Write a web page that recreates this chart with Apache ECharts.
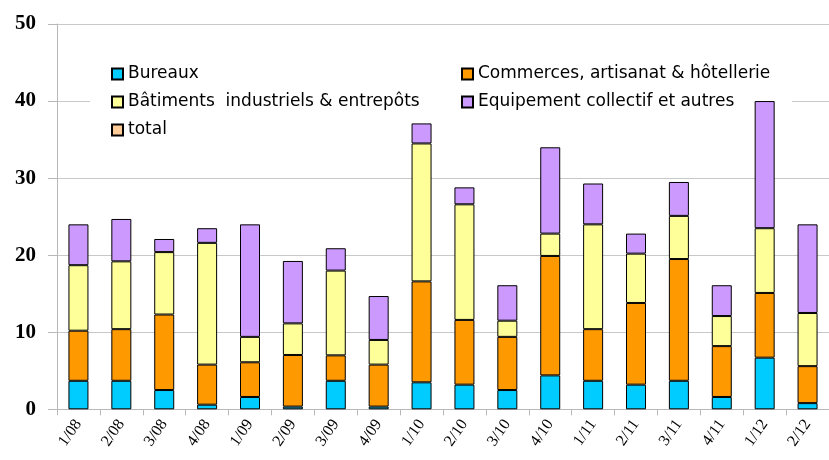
<!DOCTYPE html>
<html><head><meta charset="utf-8">
<script src="https://cdn.jsdelivr.net/npm/echarts@6/dist/echarts.min.js"></script>
<style>html,body{margin:0;padding:0;background:#fff}#c{width:829px;height:460px}</style>
</head><body><div id="c"></div>
<script>
const categories = ["1/08","2/08","3/08","4/08","1/09","2/09","3/09","4/09","1/10","2/10","3/10","4/10","1/11","2/11","3/11","4/11","1/12","2/12"];
const bureaux =    [3.7, 3.7, 2.5, 0.6, 1.6, 0.35, 3.7, 0.35, 3.5, 3.2, 2.5, 4.4, 3.7, 3.2, 3.7, 1.6, 6.7, 0.8];
const commerces =  [6.5, 6.7, 9.8, 5.2, 4.5, 6.7, 3.3, 5.45, 13.1, 8.4, 6.9, 15.5, 6.7, 10.6, 15.8, 6.6, 8.4, 4.8];
const batiments =  [8.5, 8.8, 8.1, 15.8, 3.3, 4.1, 11.0, 3.2, 17.9, 15.0, 2.1, 2.9, 13.6, 6.4, 5.6, 3.9, 8.4, 6.9];
const equipement = [5.3, 5.5, 1.7, 1.9, 14.6, 8.1, 2.9, 5.7, 2.6, 2.2, 4.6, 11.2, 5.3, 2.6, 4.4, 4.0, 16.5, 11.5];
const yTicks = [0, 10, 20, 30, 40, 50];

const names = ["Bureaux", "Commerces, artisanat & hôtellerie", "Bâtiments  industriels & entrepôts", "Equipement collectif et autres", "total"];
const colors = ["#00ccff", "#ff9900", "#ffff99", "#cc99ff", "#ffcc99"];
const values = [bureaux, commerces, batiments, equipement];

const chart = echarts.init(document.getElementById('c'), null, {renderer: 'canvas'});
const barSeries = values.map((d, i) => ({
  name: names[i], type: 'bar', stack: 's', data: d, barWidth: 20, z: 3,
  itemStyle: {color: colors[i], borderColor: '#000', borderWidth: 1},
  emphasis: {disabled: true}
}));
barSeries.push({name: names[4], type: 'bar', stack: 's', data: [], z: 3,
  itemStyle: {color: colors[4], borderColor: '#000', borderWidth: 1}});

const legendText = {fontFamily: 'DejaVu Sans, Verdana, sans-serif', fontSize: 17, color: '#000', lineHeight: 20};
chart.setOption({
  animation: false,
  backgroundColor: '#fff',
  grid: {left: 57, right: -9, top: 24, bottom: 50.7, containLabel: false},
  graphic: [{type: 'rect', z: 1, shape: {x: 90, y: 50, width: 702, height: 92}, style: {fill: '#fff'}}],
  legend: [
    {data: [names[0], names[2], names[4]], left: 106, top: 59, orient: 'vertical', itemGap: 8, itemWidth: 11, itemHeight: 11,
     icon: 'rect', textStyle: legendText, z: 4},
    {data: [names[1], names[3]], left: 456, top: 59, orient: 'vertical', itemGap: 8, itemWidth: 11, itemHeight: 11,
     icon: 'rect', textStyle: legendText, z: 4}
  ],
  xAxis: {
    type: 'category', data: categories,
    axisLine: {show: true, lineStyle: {color: '#b8b8b8', width: 1}},
    axisTick: {show: true, length: 6, alignWithLabel: false, lineStyle: {color: '#b8b8b8'}},
    axisLabel: {rotate: 55, margin: 12, fontFamily: 'Liberation Serif, Times New Roman, serif', fontSize: 16, color: '#000', interval: 0}
  },
  yAxis: {
    type: 'value', min: yTicks[0], max: yTicks[yTicks.length - 1], interval: 10,
    axisLine: {show: true, lineStyle: {color: '#b8b8b8', width: 1}},
    axisTick: {show: true, length: 9, lineStyle: {color: '#b8b8b8'}},
    splitLine: {show: true, lineStyle: {color: '#c8c8c8', width: 1}},
    axisLabel: {margin: 21, fontFamily: 'Liberation Serif, Times New Roman, serif', fontWeight: 'bold', fontSize: 21, color: '#000'}
  },
  series: barSeries
});
</script></body></html>
